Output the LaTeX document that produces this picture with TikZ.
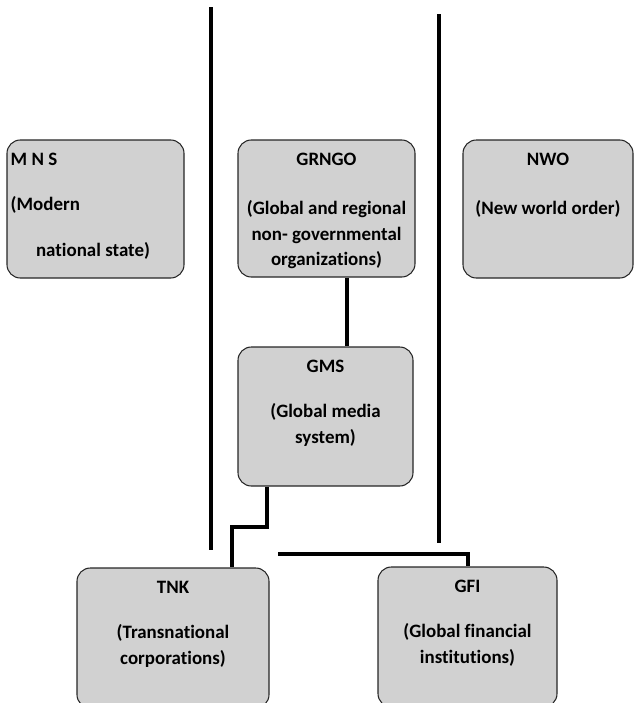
\documentclass[tikz,border=0pt]{standalone}
\usepackage{fontspec}
\setmainfont{Carlito}[Ligatures=NoCommon]
\usetikzlibrary{shapes}
\usetikzlibrary{positioning}

\definecolor{boxgray}{RGB}{209,209,209}

\tikzset{
  orgbox/.style={draw=black!85, fill=boxgray, rounded corners=10pt, line width=0.8pt, inner sep=0pt},
  orgtext/.style={font=\bfseries\fontsize{14.2}{19}\selectfont, align=center, inner sep=0pt, anchor=north},
  link/.style={line width=3pt},
  divider/.style={line width=3pt}
}

\begin{document}
\begin{tikzpicture}[x=0.75pt, y=-0.75pt]
    \useasboundingbox (0,0) rectangle (634,703);
    \clip (0,0) rectangle (634,703);

    % boxes (px, y going down)
    \node[orgbox, minimum width=132.75pt, minimum height=103.5pt] (mns) at (95.5,209) {};
    \node[orgbox, minimum width=132.75pt, minimum height=102.75pt] (grngo) at (326.5,208.5) {};
    \node[orgbox, minimum width=127.5pt, minimum height=103.5pt] (nwo) at (548,209) {};
    \node[orgbox, minimum width=131.25pt, minimum height=104.25pt] (gms) at (325.5,416.5) {};
    \node[orgbox, minimum width=144pt, minimum height=105pt] (tnk) at (173,638) {};
    \node[orgbox, minimum width=134.25pt, minimum height=105pt] (gfi) at (467.5,637) {};

    % texts
    \node[orgtext, anchor=north west, align=left] (mnsText) at ([xshift=3pt,yshift=-10pt]mns.north west)
        {M N S\\[15pt](Modern\\[15pt]\hspace*{19pt}national state)};
    \node[orgtext] (grngoText) at ([yshift=-10pt]grngo.north)
        {GRNGO\\[18pt](Global and regional\\non- governmental\\organizations)};
    \node[orgtext] (nwoText) at ([yshift=-10pt]nwo.north) {NWO\\[18pt](New world order)};
    \node[orgtext] (gmsText) at ([yshift=-10pt]gms.north) {GMS\\[15pt](Global media\\system)};
    \node[orgtext] (tnkText) at ([yshift=-10pt]tnk.north) {TNK\\[15pt](Transnational\\corporations)};
    \node[orgtext] (gfiText) at ([yshift=-10pt]gfi.north) {GFI\\[15pt](Global financial\\institutions)};

    % dividing lines
    \coordinate (divLtop) at (211,7);
    \coordinate (divLbot) at (211,550);
    \coordinate (divRtop) at (439,14);
    \coordinate (divRbot) at (439,543);
    \draw[divider] (divLtop) -- (divLbot);
    \draw[divider] (divRtop) -- (divRbot);

    % links
    \draw[link] ([xshift=15.5pt]grngo.south) -- ([xshift=15.5pt]grngo.south |- gms.north);
    \draw[link] ([xshift=-44pt]gms.south) -- ++(0,40) -| ([xshift=44pt]tnk.north);
    \coordinate (gfiStart) at (278,554);
    \draw[link] (gfiStart) -| (gfi.north);
\end{tikzpicture}
\end{document}
